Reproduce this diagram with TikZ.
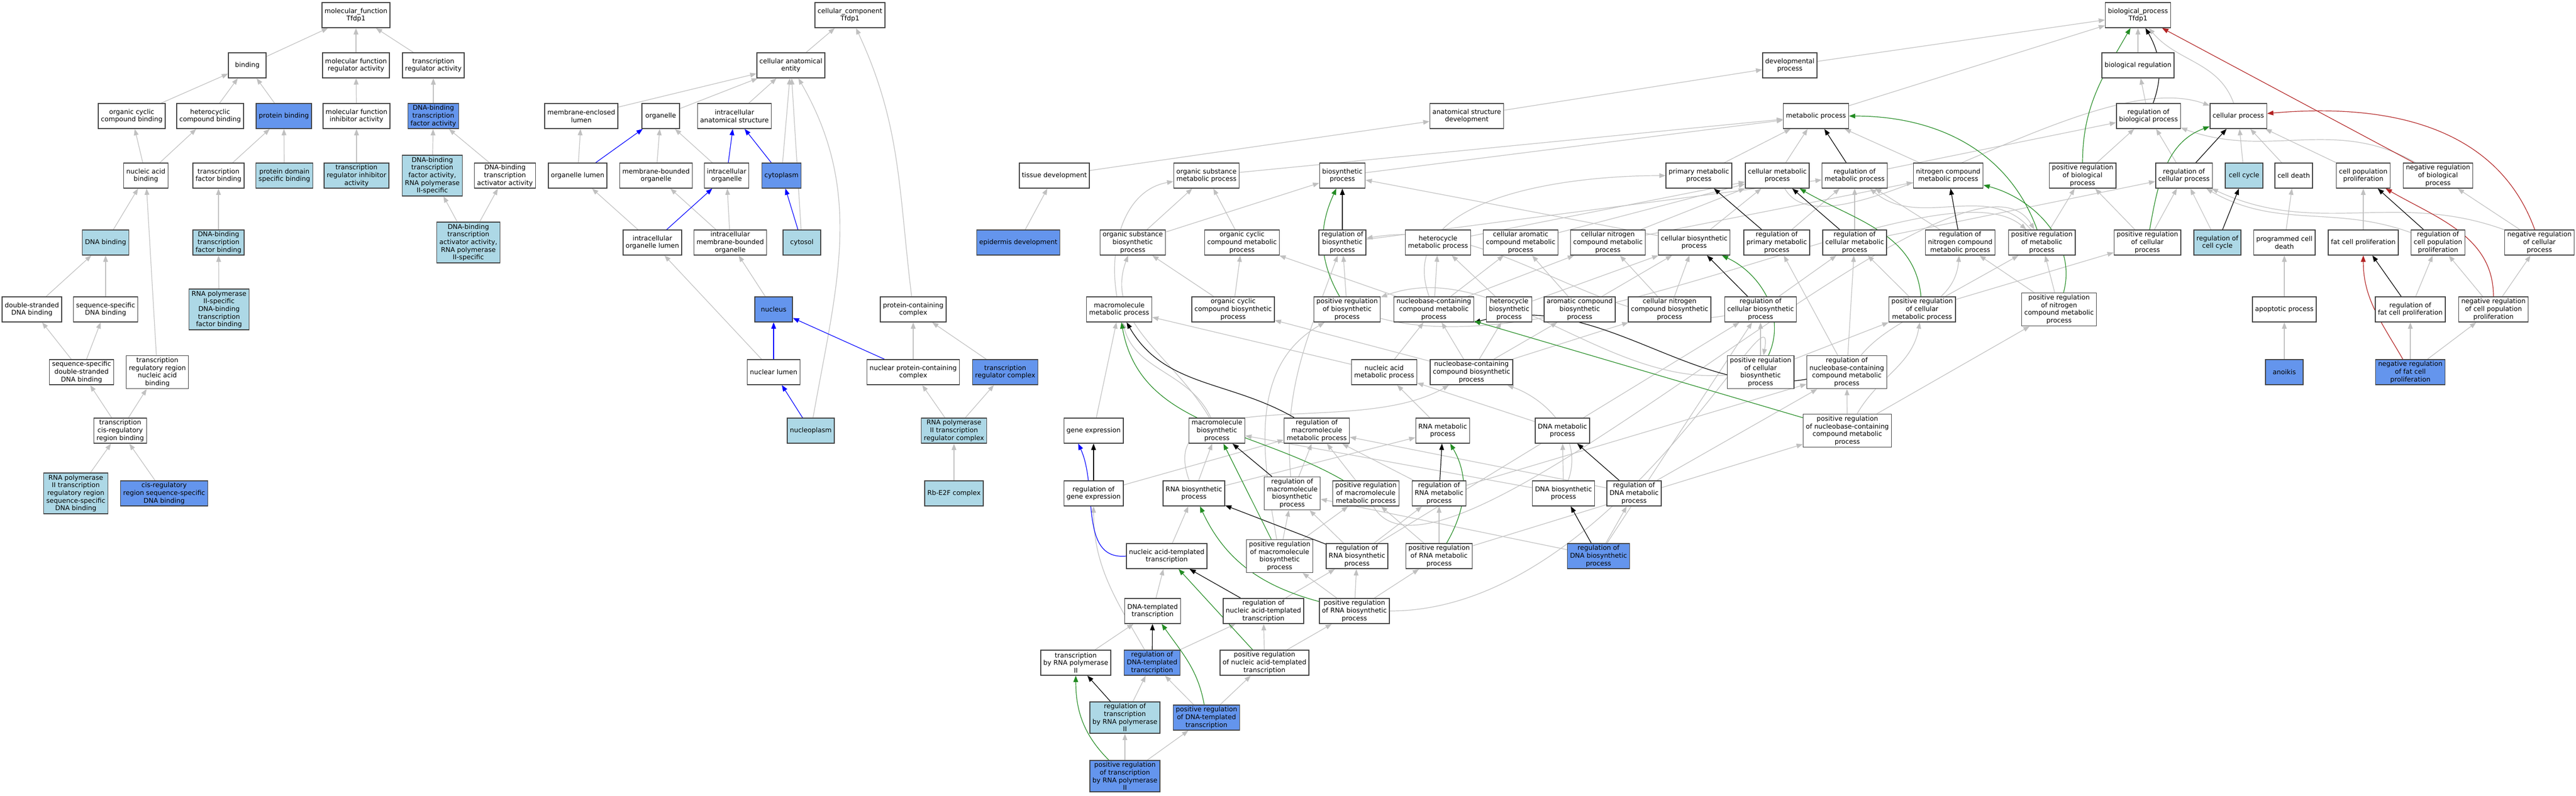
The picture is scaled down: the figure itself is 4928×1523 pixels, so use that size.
\documentclass[tikz,border=0pt]{standalone}
\usepackage{fontspec}
\setmainfont{DejaVu Sans}
\usetikzlibrary{arrows.meta,backgrounds}
\definecolor{edgegray}{RGB}{192,192,192}
\definecolor{boxgray}{RGB}{64,64,64}
\definecolor{hitblue}{RGB}{100,149,237}
\definecolor{nearblue}{RGB}{173,216,230}
\definecolor{posgreen}{RGB}{34,139,34}
\definecolor{negred}{RGB}{178,34,34}
\newcommand\gofont{\fontsize{12.6}{14.6}\selectfont}
\tikzset{
  term/.style  ={draw=boxgray, line width=1.5pt, fill=white, align=center, font=\gofont,
                 inner xsep=5pt, inner ysep=3.5pt, minimum width=72pt, minimum height=48pt},
  hit/.style   ={term, fill=hitblue},
  near/.style  ={term, fill=nearblue},
  isa/.style   ={-{Triangle[length=12pt,width=9pt]}, draw=edgegray, line width=1.2pt},
  regl/.style  ={isa, draw=black},
  posr/.style  ={isa, draw=posgreen},
  negr/.style  ={isa, draw=negred},
  partof/.style={isa, draw=blue}
}
\begin{document}
\begin{tikzpicture}[x=1pt,y=-1pt]
\useasboundingbox (0,0) rectangle (4928,1523);
% molecular function
\node[term] (mf) at (681,29) {molecular\_function\\Tfdp1};
\node[term] (binding) at (473,125) {binding};
\node[term] (mfreg) at (681,125) {molecular function\\regulator activity};
\node[term] (treg) at (829,125) {transcription\\regulator activity};
\node[term] (ocb) at (252,222) {organic cyclic\\compound binding};
\node[term] (hcb) at (402,222) {heterocyclic\\compound binding};
\node[hit] (pb) at (543,222) {protein binding};
\node[term] (mfinh) at (682,222) {molecular function\\inhibitor activity};
\node[hit] (dbtfa) at (829,222) {DNA-binding\\transcription\\factor activity};
\node[term] (nab) at (279,336) {nucleic acid\\binding};
\node[term] (tfb) at (418,336) {transcription\\factor binding};
\node[near] (pdsb) at (544,336) {protein domain\\specific binding};
\node[near] (treginh) at (682,336) {transcription\\regulator inhibitor\\activity};
\node[near] (dbtfa2) at (827,336) {DNA-binding\\transcription\\factor activity,\\RNA polymerase\\II-specific};
\node[term] (dbtaa) at (966,336) {DNA-binding\\transcription\\activator activity};
\node[near] (dnab) at (202,464) {DNA binding};
\node[near] (dbtfb) at (418,464) {DNA-binding\\transcription\\factor binding};
\node[near] (dbtfaa) at (896,464) {DNA-binding\\transcription\\activator activity,\\RNA polymerase\\II-specific};
\node[term] (dsdb) at (61,592) {double-stranded\\DNA binding};
\node[term] (ssdb) at (202,592) {sequence-specific\\DNA binding};
\node[near] (rnap2tfb) at (419,592) {RNA polymerase\\II-specific\\DNA-binding\\transcription\\factor binding};
\node[term] (sdsdb) at (156,712) {sequence-specific\\double-stranded\\DNA binding};
\node[term] (trrnab) at (301,712) {transcription\\regulatory region\\nucleic acid\\binding};
\node[term] (tcrrb) at (230,824) {transcription\\cis-regulatory\\region binding};
\node[near] (rnap2trr) at (145,944) {RNA polymerase\\II transcription\\regulatory region\\sequence-specific\\DNA binding};
\node[hit] (crssdb) at (314,944) {cis-regulatory\\region sequence-specific\\DNA binding};
% cellular component
\node[term] (cc) at (1626,29) {cellular\_component\\Tfdp1};
\node[term] (cae) at (1513,125) {cellular anatomical\\entity};
\node[term] (mel) at (1112,222) {membrane-enclosed\\lumen};
\node[term] (org) at (1264,222) {organelle};
\node[term] (ias) at (1405,222) {intracellular\\anatomical structure};
\node[term] (orglum) at (1105,336) {organelle lumen};
\node[term] (mbo) at (1255,336) {membrane-bounded\\organelle};
\node[term] (io) at (1390,336) {intracellular\\organelle};
\node[hit] (cyto) at (1495,336) {cytoplasm};
\node[term] (iol) at (1248,464) {intracellular\\organelle lumen};
\node[term] (imbo) at (1397,464) {intracellular\\membrane-bounded\\organelle};
\node[near] (cytosol) at (1534,464) {cytosol};
\node[hit] (nucleus) at (1480,592) {nucleus};
\node[term] (nl) at (1480,712) {nuclear lumen};
\node[near] (nucleoplasm) at (1551,824) {nucleoplasm};
\node[term] (pcc) at (1747,592) {protein-containing\\complex};
\node[term] (npcc) at (1747,712) {nuclear protein-containing\\complex};
\node[hit] (trc) at (1923,712) {transcription\\regulator complex};
\node[near] (rnap2trc) at (1825,824) {RNA polymerase\\II transcription\\regulator complex};
\node[near] (rbe2f) at (1825,944) {Rb-E2F complex};
% biological process
\node[term] (bio) at (4090,29) {biological\_process\\Tfdp1};
\node[term] (dp) at (3424,125) {developmental\\process};
\node[term] (breg) at (4090,125) {biological regulation};
\node[term] (asd) at (2806,222) {anatomical structure\\development};
\node[term] (mp) at (3474,222) {metabolic process};
\node[term] (rbiop) at (4110,222) {regulation of\\biological process};
\node[term] (cp) at (4282,222) {cellular process};
\node[term] (td) at (2017,336) {tissue development};
\node[term] (osmp) at (2308,336) {organic substance\\metabolic process};
\node[term] (bp) at (2568,336) {biosynthetic\\process};
\node[term] (pmp) at (3250,336) {primary metabolic\\process};
\node[term] (cmp) at (3400,336) {cellular metabolic\\process};
\node[term] (rmp) at (3548,336) {regulation of\\metabolic process};
\node[term] (ncmp2) at (3727,336) {nitrogen compound\\metabolic process};
\node[term] (prbiop) at (3984,336) {positive regulation\\of biological\\process};
\node[term] (rcp) at (4178,336) {regulation of\\cellular process};
\node[near] (ccyc) at (4293,336) {cell cycle};
\node[term] (cd) at (4388,336) {cell death};
\node[term] (cpp) at (4521,336) {cell population\\proliferation};
\node[term] (nrbp) at (4664,336) {negative regulation\\of biological\\process};
\node[hit] (ed) at (1948,464) {epidermis development};
\node[term] (osbp) at (2167,464) {organic substance\\biosynthetic\\process};
\node[term] (occmp) at (2376,464) {organic cyclic\\compound metabolic\\process};
\node[term] (rbp) at (2568,464) {regulation of\\biosynthetic\\process};
\node[term] (hmp) at (2751,464) {heterocycle\\metabolic process};
\node[term] (camp) at (2909,464) {cellular aromatic\\compound metabolic\\process};
\node[term] (cncmp) at (3076,464) {cellular nitrogen\\compound metabolic\\process};
\node[term] (cbp) at (3241,464) {cellular biosynthetic\\process};
\node[term] (rpmp) at (3399,464) {regulation of\\primary metabolic\\process};
\node[term] (rcmp) at (3548,464) {regulation of\\cellular metabolic\\process};
\node[term] (rncmp) at (3750,464) {regulation of\\nitrogen compound\\metabolic process};
\node[term] (prmp) at (3906,464) {positive regulation\\of metabolic\\process};
\node[term] (prcp) at (4108,464) {positive regulation\\of cellular\\process};
\node[near] (rcc) at (4242,464) {regulation of\\cell cycle};
\node[term] (pcd) at (4370,464) {programmed cell\\death};
\node[term] (fcp) at (4521,464) {fat cell proliferation};
\node[term] (rcpp) at (4664,464) {regulation of\\cell population\\proliferation};
\node[term] (nrcp) at (4858,464) {negative regulation\\of cellular\\process};
\node[term] (mmp) at (2141,592) {macromolecule\\metabolic process};
\node[term] (occbp) at (2359,592) {organic cyclic\\compound biosynthetic\\process};
\node[term] (prbp) at (2577,592) {positive regulation\\of biosynthetic\\process};
\node[term] (ncmp) at (2743,592) {nucleobase-containing\\compound metabolic\\process};
\node[term] (hbp) at (2887,592) {heterocycle\\biosynthetic\\process};
\node[term] (acbp) at (3022,592) {aromatic compound\\biosynthetic\\process};
\node[term] (cncbp) at (3194,592) {cellular nitrogen\\compound biosynthetic\\process};
\node[term] (rcbp) at (3368,592) {regulation of\\cellular biosynthetic\\process};
\node[term] (prcmp) at (3677,592) {positive regulation\\of cellular\\metabolic process};
\node[term] (prncmp) at (3939,592) {positive regulation\\of nitrogen\\compound metabolic\\process};
\node[term] (ap) at (4370,592) {apoptotic process};
\node[term] (rfcp) at (4611,592) {regulation of\\fat cell proliferation};
\node[term] (nrcpp) at (4770,592) {negative regulation\\of cell population\\proliferation};
\node[term] (namp) at (2648,712) {nucleic acid\\metabolic process};
\node[term] (ncbp) at (2815,712) {nucleobase-containing\\compound biosynthetic\\process};
\node[term] (prcbp) at (3368,712) {positive regulation\\of cellular\\biosynthetic\\process};
\node[term] (rncmp2) at (3533,712) {regulation of\\nucleobase-containing\\compound metabolic\\process};
\node[hit] (anoikis) at (4370,712) {anoikis};
\node[hit] (nrfcp) at (4611,712) {negative regulation\\of fat cell\\proliferation};
\node[term] (ge) at (2092,824) {gene expression};
\node[term] (mbp) at (2328,824) {macromolecule\\biosynthetic\\process};
\node[term] (rmmp) at (2519,824) {regulation of\\macromolecule\\metabolic process};
\node[term] (rnamp) at (2760,824) {RNA metabolic\\process};
\node[term] (dnamp) at (2989,824) {DNA metabolic\\process};
\node[term] (prncbmp) at (3534,824) {positive regulation\\of nucleobase-containing\\compound metabolic\\process};
\node[term] (rge) at (2092,944) {regulation of\\gene expression};
\node[term] (rnabp) at (2284,944) {RNA biosynthetic\\process};
\node[term] (rmbp) at (2472,944) {regulation of\\macromolecule\\biosynthetic\\process};
\node[term] (prmmp) at (2613,944) {positive regulation\\of macromolecule\\metabolic process};
\node[term] (rrnamp) at (2753,944) {regulation of\\RNA metabolic\\process};
\node[term] (dnabp) at (2991,944) {DNA biosynthetic\\process};
\node[term] (rdnamp) at (3126,944) {regulation of\\DNA metabolic\\process};
\node[term] (natt) at (2232,1064) {nucleic acid-templated\\transcription};
\node[term] (prmbp) at (2448,1064) {positive regulation\\of macromolecule\\biosynthetic\\process};
\node[term] (rrnabp) at (2596,1064) {regulation of\\RNA biosynthetic\\process};
\node[term] (prrnamp) at (2753,1064) {positive regulation\\of RNA metabolic\\process};
\node[hit] (rdnabp) at (3058,1064) {regulation of\\DNA biosynthetic\\process};
\node[term] (dtt) at (2205,1169) {DNA-templated\\transcription};
\node[term] (rnatt) at (2417,1169) {regulation of\\nucleic acid-templated\\transcription};
\node[term] (prrnabp) at (2591,1169) {positive regulation\\of RNA biosynthetic\\process};
\node[term] (tbrnap2) at (2058,1268) {transcription\\by RNA polymerase\\II};
\node[hit] (rdtt) at (2204,1268) {regulation of\\DNA-templated\\transcription};
\node[term] (prnatt) at (2419,1268) {positive regulation\\of nucleic acid-templated\\transcription};
\node[near] (rtbrnap2) at (2152,1373) {regulation of\\transcription\\by RNA polymerase\\II};
\node[hit] (prdtt) at (2308,1373) {positive regulation\\of DNA-templated\\transcription};
\node[hit] (prtbrnap2) at (2152,1485) {positive regulation\\of transcription\\by RNA polymerase\\II};

\begin{pgfonlayer}{background}
% molecular function
\draw[isa] (binding) -- (mf); \draw[isa] (mfreg) -- (mf); \draw[isa] (treg) -- (mf);
\draw[isa] (ocb) -- (binding); \draw[isa] (hcb) -- (binding); \draw[isa] (pb) -- (binding);
\draw[isa] (mfinh) -- (mfreg); \draw[isa] (dbtfa) -- (treg);
\draw[isa] (nab) -- (ocb); \draw[isa] (nab) -- (hcb); \draw[isa] (tfb) -- (pb); \draw[isa] (pdsb) -- (pb);
\draw[isa] (treginh) -- (mfinh); \draw[isa] (dbtfa2) -- (dbtfa); \draw[isa] (dbtaa) -- (dbtfa);
\draw[isa] (dnab) -- (nab); \draw[isa] (trrnab) -- (nab); \draw[isa] (dbtfb) -- (tfb);
\draw[isa] (dbtfaa) -- (dbtfa2); \draw[isa] (dbtfaa) -- (dbtaa);
\draw[isa] (dsdb) -- (dnab); \draw[isa] (ssdb) -- (dnab); \draw[isa] (rnap2tfb) -- (dbtfb);
\draw[isa] (sdsdb) -- (dsdb); \draw[isa] (sdsdb) -- (ssdb);
\draw[isa] (tcrrb) -- (sdsdb); \draw[isa] (tcrrb) -- (trrnab);
\draw[isa] (rnap2trr) -- (tcrrb); \draw[isa] (crssdb) -- (tcrrb);
% cellular component
\draw[isa] (cae) -- (cc); \draw[isa] (pcc) to[out=97,in=-65] (cc);
\draw[isa] (mel) -- (cae); \draw[isa] (org) -- (cae); \draw[isa] (ias) -- (cae);
\draw[isa] (cyto) -- (cae); \draw[isa] (cytosol) -- (cae);
\draw[isa] (nucleoplasm) to[out=80,in=-60] (cae);
\draw[isa] (orglum) -- (mel); \draw[isa] (mbo) -- (org); \draw[isa] (io) -- (org);
\draw[isa] (iol) -- (orglum); \draw[isa] (imbo) -- (mbo); \draw[isa] (imbo) -- (io);
\draw[isa] (nucleus) -- (imbo); \draw[isa] (nl) -- (iol);
\draw[isa] (npcc) -- (pcc); \draw[isa] (trc) -- (pcc);
\draw[isa] (rnap2trc) -- (npcc); \draw[isa] (rnap2trc) -- (trc); \draw[isa] (rbe2f) -- (rnap2trc);
\draw[partof] (orglum) -- (org); \draw[partof] (io) -- (ias); \draw[partof] (cyto) -- (ias);
\draw[partof] (iol) -- (io); \draw[partof] (cytosol) -- (cyto); \draw[partof] (nl) -- (nucleus);
\draw[partof] (nucleoplasm) -- (nl); \draw[partof] (npcc) -- (nucleus);
% biological process
\draw[isa] (dp) -- (bio); \draw[isa] (mp) -- (bio); \draw[isa] (breg) -- (bio);
\draw[isa] (cp) to[out=110,in=-50] (bio);
\draw[isa] (asd) -- (dp); \draw[isa] (td) -- (asd); \draw[isa] (ed) -- (td); \draw[isa] (rbiop) -- (breg);
\draw[isa] (osmp) -- (mp); \draw[isa] (bp) -- (mp); \draw[isa] (pmp) -- (mp);
\draw[isa] (cmp) -- (mp); \draw[isa] (ncmp2) -- (mp);
\draw[isa] (cmp) .. controls +(60:200) and +(200:300) .. (cp);
\draw[isa] (ccyc) -- (cp); \draw[isa] (cd) -- (cp); \draw[isa] (cpp) -- (cp);
\draw[isa] (rmp) -- (rbiop); \draw[isa] (prbiop) -- (rbiop); \draw[isa] (rcp) -- (rbiop);
\draw[isa] (nrbp) to[out=150,in=-20] (rbiop);
\draw[isa] (prmp) -- (prbiop); \draw[isa] (prcp) -- (prbiop);
\draw[isa] (rcmp) -- (rmp); \draw[isa] (rpmp) -- (rmp); \draw[isa] (rbp) -- (rmp);
\draw[isa] (rncmp) -- (rmp); \draw[isa] (prmp) to[out=130,in=-40] (rmp);
\draw[isa] (cncmp) -- (ncmp2);
\draw[isa] (rcmp) -- (rcp); \draw[isa] (prcp) -- (rcp); \draw[isa] (rcc) -- (rcp);
\draw[isa] (rcpp) to[out=160,in=-30] (rcp); \draw[isa] (nrcp) to[out=160,in=-25] (rcp);
\draw[isa] (nrcp) -- (nrbp);
\draw[isa] (pcd) -- (cd); \draw[isa] (ap) -- (pcd); \draw[isa] (anoikis) -- (ap);
\draw[isa] (fcp) -- (cpp);
\draw[isa] (nrcpp) -- (rcpp); \draw[isa] (nrcpp) -- (nrcp); \draw[isa] (rfcp) -- (rcpp);
\draw[isa] (nrfcp) -- (rfcp); \draw[isa] (nrfcp) -- (nrcpp);
\draw[isa] (mmp) to[out=100,in=190] (osmp); \draw[isa] (osbp) -- (osmp); \draw[isa] (occmp) -- (osmp);
\draw[isa] (osbp) -- (bp); \draw[isa] (cbp) -- (bp);
\draw[isa] (occbp) -- (occmp); \draw[isa] (occbp) -- (osbp);
\draw[isa] (mbp) to[out=120,in=-110] (osbp);
\draw[isa] (ncmp) -- (occmp); \draw[isa] (ncbp) -- (occbp);
\draw[isa] (hmp) -- (cmp); \draw[isa] (camp) -- (cmp); \draw[isa] (cncmp) -- (cmp); \draw[isa] (cbp) -- (cmp);
\draw[isa] (ncmp) to[out=110,in=180] (pmp);
\draw[isa] (ncmp) -- (hmp); \draw[isa] (hbp) -- (hmp); \draw[isa] (ncmp) -- (camp); \draw[isa] (acbp) -- (camp);
\draw[isa] (ncmp) -- (cncmp); \draw[isa] (cncbp) -- (cncmp);
\draw[isa] (hbp) -- (cbp); \draw[isa] (acbp) -- (cbp); \draw[isa] (cncbp) -- (cbp);
\draw[isa] (prbp) -- (rbp); \draw[isa] (rmbp) to[out=95,in=-110] (rbp);
\draw[isa] (rcbp) .. controls +(170:300) and +(-10:300) .. (rbp);
\draw[isa] (prbp) .. controls +(15:450) and +(-140:250) .. (prmp);
\draw[isa] (prcmp) -- (prmp); \draw[isa] (prncmp) -- (prmp);
\draw[isa] (prmmp) .. controls +(60:300) and +(-120:300) .. (prmp);
\draw[isa] (rncmp2) -- (rpmp); \draw[isa] (rcbp) -- (rcmp); \draw[isa] (rncmp2) -- (rcmp); \draw[isa] (prcmp) -- (rcmp);
\draw[isa] (rncmp2) to[out=50,in=-95] (rncmp); \draw[isa] (prncmp) -- (rncmp);
\draw[isa] (prcmp) -- (prcp);
\draw[isa] (prcbp) .. controls +(175:300) and +(-20:300) .. (prbp);
\draw[isa] (prmbp) to[out=100,in=-150] (prbp);
\draw[isa] (namp) -- (ncmp); \draw[isa] (ncbp) -- (ncmp); \draw[isa] (ncbp) -- (hbp);
\draw[isa] (ncbp) -- (acbp); \draw[isa] (ncbp) -- (cncbp);
\draw[isa] (rrnabp) -- (rcbp); \draw[isa] (rdnabp) -- (rcbp); \draw[isa] (prcbp) -- (rcbp);
\draw[isa] (prcbp) -- (prcmp); \draw[isa] (prncbmp) to[out=60,in=-100] (prcmp);
\draw[isa] (prncbmp) -- (prncmp);
\draw[isa] (prncbmp) -- (rncmp2); \draw[isa] (rrnamp) -- (rncmp2); \draw[isa] (rdnamp) -- (rncmp2);
\draw[isa] (prrnabp) .. controls +(0:500) and +(-80:200) .. (prcbp);
\draw[isa] (namp) -- (mmp); \draw[isa] (ge) -- (mmp); \draw[isa] (mbp) to[out=115,in=-75] (mmp);
\draw[isa] (rnamp) -- (namp); \draw[isa] (dnamp) -- (namp);
\draw[isa] (rnabp) to[out=110,in=-150] (ncbp); \draw[isa] (dnabp) to[out=70,in=-20] (ncbp);
\draw[isa] (rnabp) -- (mbp); \draw[isa] (dnabp) -- (mbp); \draw[isa] (rnabp) -- (rnamp);
\draw[isa] (rge) -- (rmmp); \draw[isa] (rmbp) -- (rmmp); \draw[isa] (prmmp) -- (rmmp);
\draw[isa] (rrnamp) -- (rmmp); \draw[isa] (rdnamp) -- (rmmp);
\draw[isa] (dnabp) -- (dnamp);
\draw[isa] (prmbp) -- (prmmp); \draw[isa] (prrnamp) -- (prmmp);
\draw[isa] (rrnabp) -- (rrnamp); \draw[isa] (prrnamp) -- (rrnamp);
\draw[isa] (rdnabp) -- (rdnamp);
\draw[isa] (rdnabp) -- (rmbp); \draw[isa] (rrnabp) -- (rmbp); \draw[isa] (prmbp) -- (rmbp);
\draw[isa] (natt) -- (rnabp);
\draw[isa] (prrnabp) -- (prmbp); \draw[isa] (prrnabp) -- (rrnabp); \draw[isa] (prrnabp) -- (prrnamp);
\draw[isa] (prrnamp) -- (prncbmp);
\draw[isa] (dtt) -- (natt); \draw[isa] (rnatt) -- (rrnabp);
\draw[isa] (prnatt) -- (rnatt); \draw[isa] (prnatt) -- (prrnabp);
\draw[isa] (rdtt) -- (rnatt); \draw[isa] (rdtt) to[out=120,in=-90] (rge);
\draw[isa] (tbrnap2) -- (dtt);
\draw[isa] (prdtt) -- (rdtt); \draw[isa] (prdtt) -- (prnatt); \draw[isa] (rtbrnap2) -- (rdtt);
\draw[isa] (prtbrnap2) -- (rtbrnap2); \draw[isa] (prtbrnap2) -- (prdtt);
% regulates
\draw[regl] (rbiop) to[out=70,in=-60] (bio);
\draw[regl] (rcp) -- (cp); \draw[regl] (rcc) -- (ccyc); \draw[regl] (rcpp) -- (cpp); \draw[regl] (rfcp) -- (fcp);
\draw[regl] (rmp) -- (mp); \draw[regl] (rpmp) -- (pmp); \draw[regl] (rcmp) -- (cmp);
\draw[regl] (rncmp) -- (ncmp2); \draw[regl] (rbp) -- (bp); \draw[regl] (rcbp) -- (cbp);
\draw[regl] (rncmp2) .. controls +(170:300) and +(-15:250) .. (ncmp.south east);
\draw[regl] (rmmp) to[out=150,in=-60] (mmp);
\draw[regl] (rmbp) -- (mbp); \draw[regl] (rrnamp) -- (rnamp); \draw[regl] (rdnamp) -- (dnamp);
\draw[regl] (rdnabp) -- (dnabp); \draw[regl] (rrnabp) -- (rnabp); \draw[regl] (rge) -- (ge);
\draw[regl] (rnatt) -- (natt); \draw[regl] (rdtt) -- (dtt); \draw[regl] (rtbrnap2) -- (tbrnap2);
% positively regulates
\draw[posr] (prbiop) to[out=90,in=-120] (bio);
\draw[posr] (prcp) to[out=80,in=200] (cp);
\draw[posr] (prmp) to[out=110,in=0] (mp);
\draw[posr] (prcmp) to[out=95,in=-30] (cmp);
\draw[posr] (prncmp) to[out=75,in=-15] (ncmp2);
\draw[posr] (prcbp) to[out=65,in=-25] (cbp);
\draw[posr] (prbp) to[out=120,in=-115] (bp);
\draw[posr] (prncbmp) -- (ncmp);
\draw[posr] (prmmp) to[out=150,in=-80] (mmp);
\draw[posr] (prmbp) -- (mbp);
\draw[posr] (prrnamp) to[out=60,in=-60] (rnamp);
\draw[posr] (prrnabp) to[out=165,in=-65] (rnabp);
\draw[posr] (prnatt) -- (natt);
\draw[posr] (prdtt) to[out=100,in=-55] (dtt);
\draw[posr] (prtbrnap2) to[out=135,in=-90] (tbrnap2);
% negatively regulates
\draw[negr] (nrbp) -- (bio);
\draw[negr] (nrcp) to[out=110,in=5] (cp);
\draw[negr] (nrcpp) to[out=90,in=-30] (cpp);
\draw[negr] (nrfcp) to[out=120,in=-90] (fcp);
% part of
\draw[partof] (natt.west) to[out=185,in=-65] ([xshift=28pt]ge.south west);
\end{pgfonlayer}
\end{tikzpicture}
\end{document}
